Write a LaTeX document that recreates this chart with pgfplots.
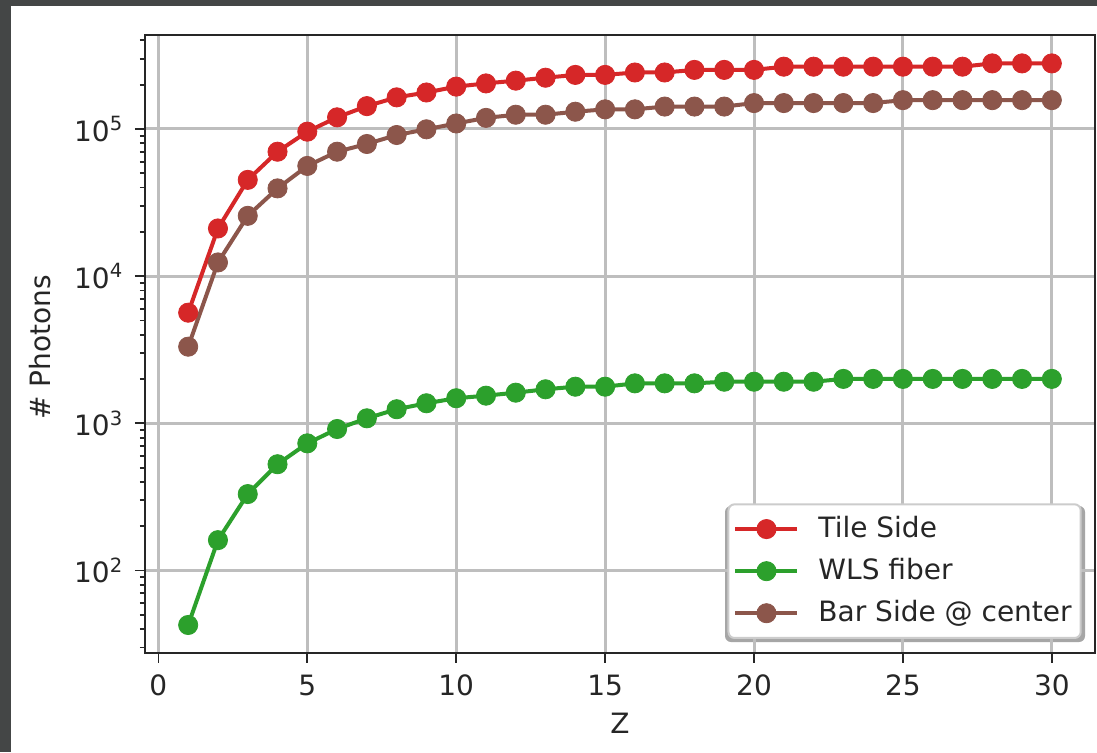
\documentclass[border=0pt]{standalone}
\usepackage{fontspec}
\setmainfont{DejaVu Sans}
\usepackage{pgfplots}
\pgfplotsset{compat=1.18}
\definecolor{tabred}{HTML}{D62728}
\definecolor{tabgreen}{HTML}{2CA02C}
\definecolor{tabbrown}{HTML}{8C564B}
\definecolor{darkbg}{HTML}{444646}
\definecolor{spine}{HTML}{262626}
\definecolor{gridc}{HTML}{BEBEBE}
\newcommand{\ff}{\fontsize{14}{16}\selectfont}
\begin{document}
\ff
\begin{tikzpicture}
\fill[darkbg] (0pt,0pt) rectangle (548.5pt,376pt);
\fill[white] (5.5pt,0pt) rectangle (548.5pt,373pt);
% legend shadow (drawn behind the axis)
\fill[black!35, rounded corners=3pt] (362.5pt,55pt) rectangle (542.5pt,123pt);
\begin{axis}[
  at={(72.5pt,49.5pt)}, anchor=south west,
  width=475pt, height=309pt, scale only axis,
  ymode=log,
  xmin=-0.45, xmax=31.45,
  ymin=27.55, ymax=435000,
  xtick={0,5,...,30},
  ytick={100,1000,10000,100000},
  yticklabels={10\textsuperscript{2},10\textsuperscript{3},10\textsuperscript{4},10\textsuperscript{5}},
  minor ytick={30,40,50,60,70,80,90,200,300,400,500,600,700,800,900,2000,3000,4000,5000,6000,7000,8000,9000,20000,30000,40000,50000,60000,70000,80000,90000,200000,300000,400000},
  /pgf/number format/assume math mode=true,
  tick align=outside, tick pos=left,
  major tick length=5pt, minor tick length=2.6pt,
  every tick/.style={spine, line width=0.9pt},
  axis line style={spine, line width=1.3pt},
  grid=major,
  major grid style={gridc, line width=1.5pt},
  every tick label/.append style={font=\ff, text=black!85},
  xticklabel style={yshift=-1pt},
  yticklabel style={xshift=-1pt},
  xlabel={Z}, ylabel={\# Photons},
  label style={font=\ff, text=black!85},
  xlabel style={at={(axis description cs:0.5,-0.113)}, anchor=center},
  ylabel style={at={(axis description cs:-0.1105,0.495)}, anchor=center},
  legend cell align=left,
  legend image code/.code={\draw[mark repeat=2,mark phase=2,#1] plot coordinates {(0pt,0pt) (15.5pt,0pt) (31pt,0pt)};},
  legend style={at={(rel axis cs:0.986,0.0227)}, anchor=south east,
    draw=black!20, line width=1pt, rounded corners=3pt, fill=white,
    font=\ff, text=black!85, inner xsep=2.5pt, inner ysep=4pt, row sep=4.3pt,
    /tikz/every odd column/.append style={column sep=7.5pt}},
  every axis plot/.append style={line width=2pt, mark=*, mark size=4.8pt},
]
\addplot[tabred, mark options={solid, fill=tabred, draw=tabred, line width=0.4pt}] coordinates {
(1,5650)(2,21100)(3,45100)(4,70100)(5,95900)(6,120000)(7,143000)(8,164000)(9,177000)(10,194000)
(11,204000)(12,213000)(13,223000)(14,233000)(15,233000)(16,242000)(17,242000)(18,252000)(19,252000)(20,252000)
(21,265000)(22,265000)(23,265000)(24,265000)(25,265000)(26,265000)(27,265000)(28,279000)(29,279000)(30,279000)};
\addlegendentry{Tile Side}
\addplot[tabgreen, mark options={solid, fill=tabgreen, draw=tabgreen, line width=0.4pt}] coordinates {
(1,42.7)(2,161)(3,331)(4,528)(5,732)(6,916)(7,1083)(8,1248)(9,1370)(10,1482)
(11,1543)(12,1617)(13,1705)(14,1775)(15,1775)(16,1871)(17,1871)(18,1871)(19,1919)(20,1919)
(21,1919)(22,1919)(23,2005)(24,2005)(25,2005)(26,2005)(27,2005)(28,2005)(29,2005)(30,2005)};
\addlegendentry{WLS fiber}
\addplot[tabbrown, mark options={solid, fill=tabbrown, draw=tabbrown, line width=0.4pt}] coordinates {
(1,3320)(2,12400)(3,25700)(4,39500)(5,56100)(6,70100)(7,79100)(8,91000)(9,99500)(10,109000)
(11,119000)(12,125000)(13,125000)(14,131000)(15,136000)(16,136000)(17,142000)(18,142000)(19,142000)(20,150000)
(21,150000)(22,150000)(23,150000)(24,150000)(25,157000)(26,157000)(27,157000)(28,157000)(29,157000)(30,157000)};
\addlegendentry{Bar Side @ center}
\end{axis}
\pgfresetboundingbox
\path[use as bounding box] (0pt,0pt) rectangle (548.5pt,376pt);
\end{tikzpicture}
\end{document}
